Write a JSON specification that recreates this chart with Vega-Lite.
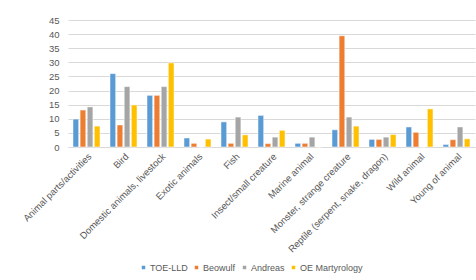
{
  "$schema": "https://vega.github.io/schema/vega-lite/v6.json",
  "autosize": "none",
  "width": 407,
  "height": 127,
  "padding": {"left": 68, "top": 20, "right": 1, "bottom": 133},
  "background": "white",
  "config": {
    "font": "Liberation Sans",
    "view": {"stroke": null},
    "axis": {"labelColor": "#595959", "labelFontSize": 9.5, "titleColor": "#595959"},
    "legend": {"labelColor": "#595959", "labelFontSize": 9.5}
  },
  "data": {
    "values": [
      {"category": "Animal parts/activities", "series": "TOE-LLD", "value": 9.9},
      {"category": "Animal parts/activities", "series": "Beowulf", "value": 13.1},
      {"category": "Animal parts/activities", "series": "Andreas", "value": 14.2},
      {"category": "Animal parts/activities", "series": "OE Martyrology", "value": 7.4},
      {"category": "Bird", "series": "TOE-LLD", "value": 26.0},
      {"category": "Bird", "series": "Beowulf", "value": 7.8},
      {"category": "Bird", "series": "Andreas", "value": 21.4},
      {"category": "Bird", "series": "OE Martyrology", "value": 14.9},
      {"category": "Domestic animals, livestock", "series": "TOE-LLD", "value": 18.3},
      {"category": "Domestic animals, livestock", "series": "Beowulf", "value": 18.3},
      {"category": "Domestic animals, livestock", "series": "Andreas", "value": 21.4},
      {"category": "Domestic animals, livestock", "series": "OE Martyrology", "value": 29.8},
      {"category": "Exotic animals", "series": "TOE-LLD", "value": 3.2},
      {"category": "Exotic animals", "series": "Beowulf", "value": 1.3},
      {"category": "Exotic animals", "series": "Andreas", "value": 0},
      {"category": "Exotic animals", "series": "OE Martyrology", "value": 2.8},
      {"category": "Fish", "series": "TOE-LLD", "value": 8.9},
      {"category": "Fish", "series": "Beowulf", "value": 1.3},
      {"category": "Fish", "series": "Andreas", "value": 10.6},
      {"category": "Fish", "series": "OE Martyrology", "value": 4.3},
      {"category": "Insect/small creature", "series": "TOE-LLD", "value": 11.2},
      {"category": "Insect/small creature", "series": "Beowulf", "value": 1.2},
      {"category": "Insect/small creature", "series": "Andreas", "value": 3.5},
      {"category": "Insect/small creature", "series": "OE Martyrology", "value": 5.9},
      {"category": "Marine animal", "series": "TOE-LLD", "value": 1.3},
      {"category": "Marine animal", "series": "Beowulf", "value": 1.3},
      {"category": "Marine animal", "series": "Andreas", "value": 3.5},
      {"category": "Marine animal", "series": "OE Martyrology", "value": 0},
      {"category": "Monster, strange creature", "series": "TOE-LLD", "value": 6.1},
      {"category": "Monster, strange creature", "series": "Beowulf", "value": 39.4},
      {"category": "Monster, strange creature", "series": "Andreas", "value": 10.6},
      {"category": "Monster, strange creature", "series": "OE Martyrology", "value": 7.4},
      {"category": "Reptile (serpent, snake, dragon)", "series": "TOE-LLD", "value": 2.7},
      {"category": "Reptile (serpent, snake, dragon)", "series": "Beowulf", "value": 2.7},
      {"category": "Reptile (serpent, snake, dragon)", "series": "Andreas", "value": 3.5},
      {"category": "Reptile (serpent, snake, dragon)", "series": "OE Martyrology", "value": 4.4},
      {"category": "Wild animal", "series": "TOE-LLD", "value": 7.1},
      {"category": "Wild animal", "series": "Beowulf", "value": 5.2},
      {"category": "Wild animal", "series": "Andreas", "value": 0},
      {"category": "Wild animal", "series": "OE Martyrology", "value": 13.5},
      {"category": "Young of animal", "series": "TOE-LLD", "value": 0.9},
      {"category": "Young of animal", "series": "Beowulf", "value": 2.6},
      {"category": "Young of animal", "series": "Andreas", "value": 7.1},
      {"category": "Young of animal", "series": "OE Martyrology", "value": 2.9}
    ]
  },
  "mark": {"type": "bar", "stroke": "white", "strokeWidth": 0.5},
  "encoding": {
    "x": {
      "field": "category", "type": "nominal", "sort": null,
      "scale": {"paddingInner": 0.27, "paddingOuter": 0.135},
      "axis": {"title": null, "labelAngle": -45, "ticks": false, "domainColor": "#d9d9d9", "labelPadding": 4, "labelLimit": 200}
    },
    "xOffset": {
      "field": "series", "type": "nominal",
      "sort": ["TOE-LLD", "Beowulf", "Andreas", "OE Martyrology"],
      "scale": {"paddingInner": 0.2}
    },
    "y": {
      "field": "value", "type": "quantitative",
      "scale": {"domain": [0, 45]},
      "axis": {"title": null, "values": [0,5,10,15,20,25,30,35,40,45], "ticks": false, "domain": false, "gridColor": "#d9d9d9", "labelPadding": 9}
    },
    "color": {
      "field": "series", "type": "nominal",
      "sort": ["TOE-LLD", "Beowulf", "Andreas", "OE Martyrology"],
      "scale": {"domain": ["TOE-LLD", "Beowulf", "Andreas", "OE Martyrology"], "range": ["#5B9BD5", "#ED7D31", "#A5A5A5", "#FFC000"]},
      "legend": {"title": null, "orient": "none", "direction": "horizontal", "legendX": 71, "legendY": 243, "symbolType": "square", "symbolSize": 25, "columnPadding": 3, "labelOffset": 2, "labelFontSize": 9}
    }
  }
}
